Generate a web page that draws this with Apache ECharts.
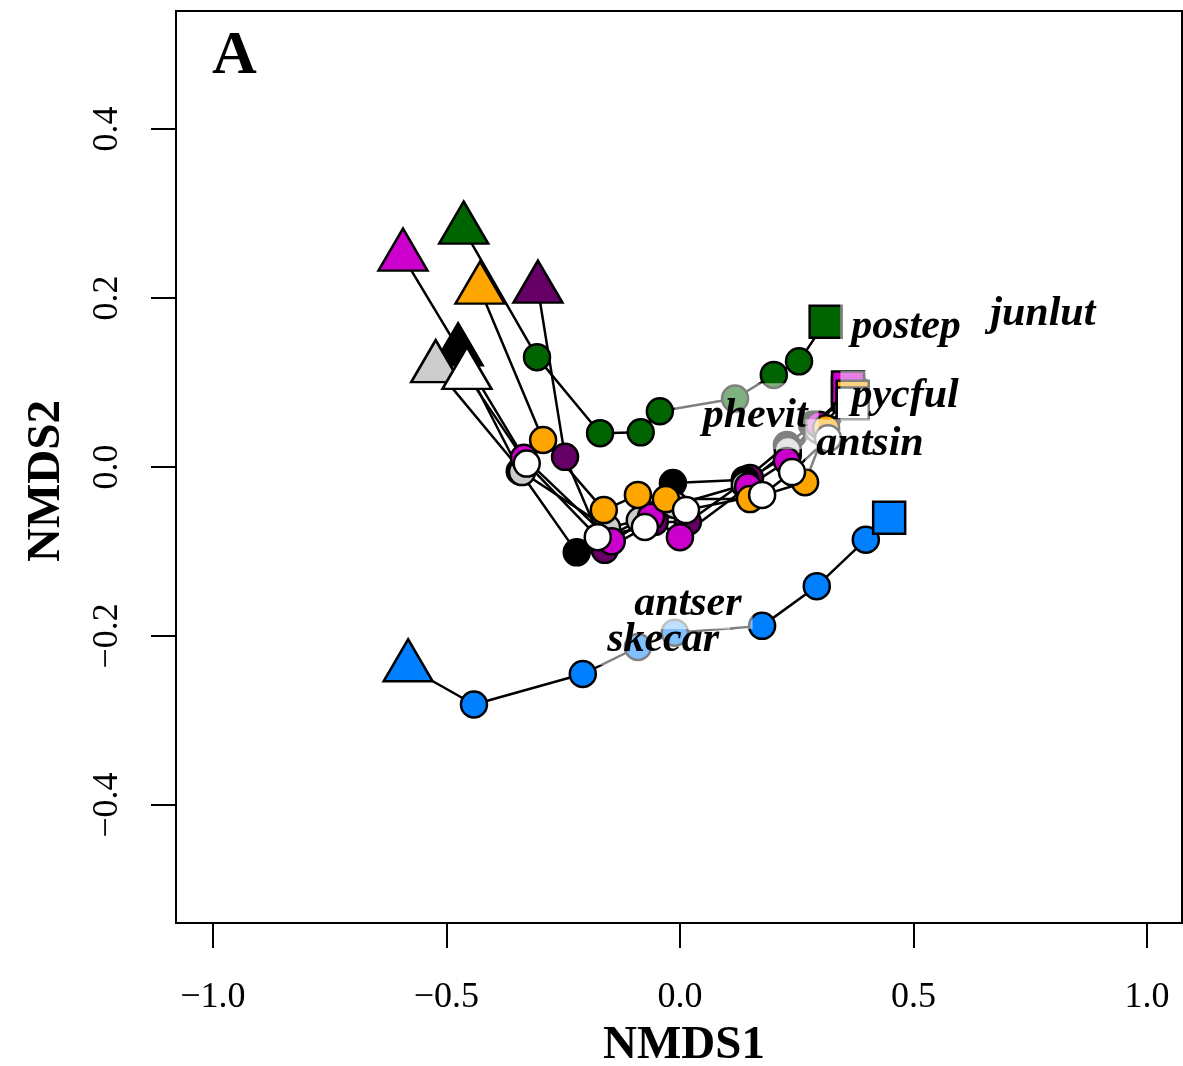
<!DOCTYPE html>
<html>
<head>
<meta charset="utf-8">
<script src="https://cdn.jsdelivr.net/npm/echarts@6/dist/echarts.min.js"></script>
<style>
  html, body { margin: 0; padding: 0; background: #fff; }
  #chart { width: 1183px; height: 1066px; }
</style>
</head>
<body>
<div id="chart"></div>
<script>
// trajectories: first point = start (triangle), last = end (square)
const greenX   = [-0.463, -0.306, -0.171, -0.084, -0.043, 0.118, 0.201, 0.255, 0.312];
const greenY   = [0.281, 0.130, 0.040, 0.041, 0.066, 0.081, 0.109, 0.125, 0.172];
const blueX    = [-0.582, -0.441, -0.208, -0.090, -0.011, 0.176, 0.293, 0.398, 0.448];
const blueY    = [-0.237, -0.281, -0.245, -0.213, -0.196, -0.188, -0.141, -0.086, -0.060];
const purpleX  = [-0.304, -0.246, -0.161, -0.054, 0.017, 0.150, 0.231, 0.289, 0.360];
const purpleY  = [0.211, 0.012, -0.098, -0.065, -0.065, -0.013, 0.014, 0.050, 0.089];
const blackX   = [-0.475, -0.343, -0.221, -0.064, -0.015, 0.139, 0.229, 0.283, 0.360];
const blackY   = [0.137, -0.005, -0.101, -0.057, -0.019, -0.015, 0.026, 0.050, 0.086];
const greyX    = [-0.523, -0.338, -0.156, -0.086, -0.011, 0.139, 0.231, 0.296, 0.364];
const greyY    = [0.117, -0.006, -0.072, -0.063, -0.045, -0.021, 0.020, 0.044, 0.084];
const magentaX = [-0.593, -0.334, -0.146, -0.062, 0.000, 0.146, 0.229, 0.298, 0.360];
const magentaY = [0.249, 0.011, -0.088, -0.059, -0.083, -0.023, 0.007, 0.050, 0.094];
const orangeX  = [-0.428, -0.293, -0.163, -0.090, -0.030, 0.150, 0.268, 0.313, 0.370];
const orangeY  = [0.210, 0.032, -0.051, -0.033, -0.038, -0.038, -0.018, 0.046, 0.083];
const whiteX   = [-0.456, -0.328, -0.176, -0.075, 0.013, 0.176, 0.240, 0.317, 0.370];
const whiteY   = [0.109, 0.004, -0.083, -0.071, -0.051, -0.033, -0.006, 0.034, 0.075];

// species labels
const speciesNames = ['postep', 'junlut', 'pycful', 'phevit', 'antsin', 'antser', 'skecar'];
const speciesX = [0.484, 0.777, 0.482, 0.161, 0.407, 0.017, -0.036];
const speciesY = [0.166, 0.181, 0.084, 0.053, 0.027, -0.162, -0.205];

const xTicks = [-1.0, -0.5, 0.0, 0.5, 1.0];
const yTicks = [-0.4, -0.2, 0.0, 0.2, 0.4];

const serif = 'Liberation Serif';

function track(name, xs, ys, color) {
  const last = xs.length - 1;
  return {
    name: name,
    type: 'line',
    animation: false,
    lineStyle: { color: '#000', width: 2.5 },
    itemStyle: { color: color, borderColor: '#000', borderWidth: 2.5 },
    data: xs.map(function (x, i) {
      let item = { value: [x, ys[i]], symbol: 'circle', symbolSize: 26 };
      if (i === 0) {
        item.symbol = 'triangle';
        item.symbolSize = [49, 42];
        item.symbolOffset = [0, -7];
      } else if (i === last) {
        item.symbol = 'rect';
        item.symbolSize = 32;
      }
      return item;
    })
  };
}

function fmt(v) {
  return v.toFixed(1).replace('-', '\u2212');
}

let chart = echarts.init(document.getElementById('chart'));
chart.setOption({
  backgroundColor: '#fff',
  animation: false,
  title: {
    text: 'A', left: 207, top: 21,
    textStyle: { fontFamily: serif, fontWeight: 'bold', fontSize: 62, color: '#000' }
  },
  grid: {
    left: 176, top: 11, width: 1006, height: 912,
    outerBoundsMode: 'none', containLabel: false,
    show: true, borderColor: '#000', borderWidth: 2, backgroundColor: 'transparent'
  },
  xAxis: {
    type: 'value', min: -1.079, max: 1.075,
    splitLine: { show: false },
    axisLine: { show: false, onZero: false },
    axisTick: { show: true, length: 25, lineStyle: { color: '#000', width: 2 }, customValues: xTicks },
    axisLabel: {
      customValues: xTicks, formatter: fmt, margin: 57,
      fontFamily: serif, fontSize: 36, color: '#000'
    },
    name: 'NMDS1', nameLocation: 'middle', nameGap: 99,
    nameTextStyle: { fontFamily: serif, fontWeight: 'bold', fontSize: 47, color: '#000', padding: [0, 0, 0, 10] }
  },
  yAxis: {
    type: 'value', min: -0.5396, max: 0.5396,
    splitLine: { show: false },
    axisLine: { show: false, onZero: false },
    axisTick: { show: true, length: 25, lineStyle: { color: '#000', width: 2 }, customValues: yTicks },
    axisLabel: {
      customValues: yTicks, formatter: fmt, margin: 50, rotate: 90,
      fontFamily: serif, fontSize: 36, color: '#000'
    },
    name: 'NMDS2', nameLocation: 'middle', nameGap: 106,
    nameTextStyle: { fontFamily: serif, fontWeight: 'bold', fontSize: 47, color: '#000', padding: [0, 28, 0, 0] }
  },
  series: [
    track('green', greenX, greenY, '#006400'),
    track('blue', blueX, blueY, '#0080FF'),
    track('purple', purpleX, purpleY, '#660066'),
    track('black', blackX, blackY, '#000000'),
    track('grey', greyX, greyY, '#CCCCCC'),
    track('magenta', magentaX, magentaY, '#CC00CC'),
    track('orange', orangeX, orangeY, '#FFA500'),
    track('white', whiteX, whiteY, '#FFFFFF'),
    {
      name: 'species',
      type: 'scatter',
      z: 10,
      symbolSize: 0,
      itemStyle: { color: '#000', opacity: 1 },
      data: speciesNames.map(function (n, i) {
        let item = { name: n, value: [speciesX[i], speciesY[i]] };
        if (n === 'phevit') {
          item.label = { padding: [18, 11, 6, 28], offset: [-8.5, -6] };
        }
        return item;
      }),
      label: {
        show: true, position: 'inside',
        formatter: '{b}',
        fontFamily: serif, fontStyle: 'italic', fontWeight: 'bold', fontSize: 42,
        color: '#000', opacity: 1, textBorderWidth: 0, textBorderColor: 'transparent',
        backgroundColor: 'rgba(255,255,255,0.5)',
        padding: [2, 11, 6, 11]
      },
      emphasis: { disabled: true }
    }
  ]
});
</script>
</body>
</html>
